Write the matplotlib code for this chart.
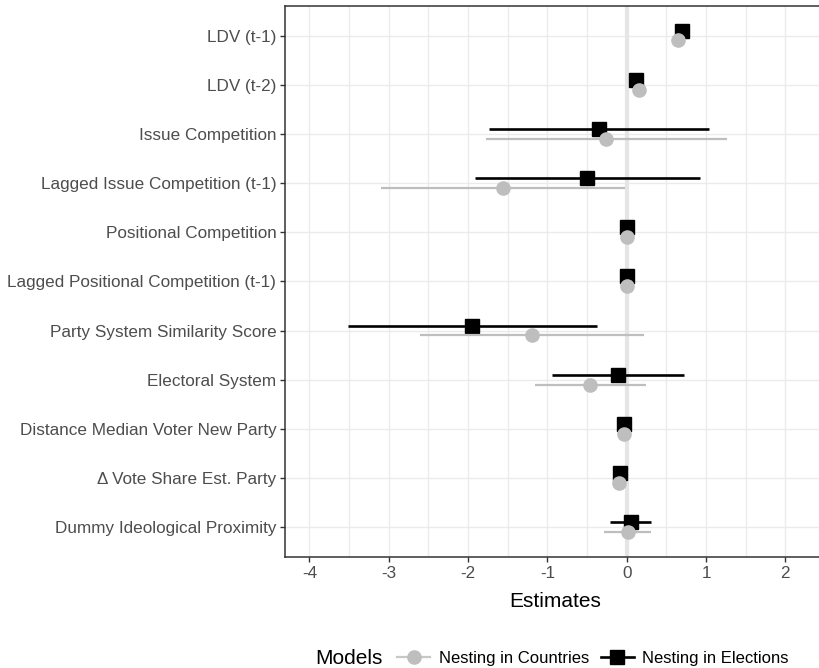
import matplotlib
matplotlib.use("Agg")
import matplotlib.pyplot as plt
from matplotlib.lines import Line2D
import numpy as np

plt.rcParams['font.family'] = ['Liberation Sans', 'DejaVu Sans']

categories = [
    "LDV (t-1)",
    "LDV (t-2)",
    "Issue Competition",
    "Lagged Issue Competition (t-1)",
    "Positional Competition",
    "Lagged Positional Competition (t-1)",
    "Party System Similarity Score",
    "Electoral System",
    "Distance Median Voter New Party",
    "\u0394 Vote Share Est. Party",
    "Dummy Ideological Proximity",
]

# Nesting in Elections (black squares)
est_elections = [0.70, 0.12, -0.35, -0.50, 0.00, 0.00, -1.95, -0.11, -0.03, -0.08, 0.06]
lo_elections  = [0.66, 0.08, -1.74, -1.91, -0.02, -0.02, -3.52, -0.94, -0.05, -0.10, -0.21]
hi_elections  = [0.74, 0.16, 1.04, 0.93, 0.02, 0.02, -0.37, 0.72, -0.01, -0.06, 0.31]

# Nesting in Countries (grey circles)
est_countries = [0.65, 0.16, -0.26, -1.56, 0.00, 0.00, -1.20, -0.46, -0.03, -0.10, 0.01]
lo_countries  = [0.61, 0.12, -1.78, -3.10, -0.02, -0.02, -2.61, -1.16, -0.05, -0.12, -0.29]
hi_countries  = [0.69, 0.20, 1.265, -0.02, 0.02, 0.02, 0.22, 0.24, -0.01, -0.08, 0.31]

xticks = [-4, -3, -2, -1, 0, 1, 2]

W, H = 820, 668
fig = plt.figure(figsize=(W / 100, H / 100), dpi=100)
ax = fig.add_axes([285.3 / W, (H - 556.7) / H, (825 - 285.3) / W, (556.7 - 6) / H])

n = len(categories)
ypos = np.arange(n, 0, -1)

grid_c = '#EBEBEB'
# grid
for xv in np.arange(-4.5, 2.51, 0.5):
    ax.axvline(xv, color=grid_c, lw=1.0, zorder=0)
for yv in ypos:
    ax.axhline(yv, color=grid_c, lw=1.0, zorder=0)
ax.axvline(0, color='#E5E5E5', lw=3.0, zorder=0.5)

black = '#000000'
grey = '#BEBEBE'
off = 0.1
for i in range(n):
    y = ypos[i] + off
    ax.plot([lo_elections[i], hi_elections[i]], [y, y], color=black, lw=1.9, zorder=2, solid_capstyle='butt')
    ax.plot([est_elections[i]], [y], marker='s', color=black, markersize=9.5, zorder=3, linestyle='none')
for i in range(n):
    y = ypos[i] - off
    ax.plot([lo_countries[i], hi_countries[i]], [y, y], color=grey, lw=1.6, zorder=4, solid_capstyle='butt')
    ax.plot([est_countries[i]], [y], marker='o', color=grey, markersize=9.5, zorder=5, linestyle='none')

ax.set_xlim(-4.305, 2.50)
ax.set_ylim(0.4, n + 0.6)
ax.set_yticks(ypos)
ax.set_yticklabels(categories)
ax.set_xticks(xticks)
ax.set_xticklabels([str(t) for t in xticks])
ax.tick_params(axis='both', colors='#333333', labelcolor='#4D4D4D', labelsize=12.3, length=3.5, width=1.0)
ax.tick_params(axis='y', pad=3)
ax.tick_params(axis='x', pad=3)
for s in ax.spines.values():
    s.set_color('#333333')
    s.set_linewidth(1.1)
ax.spines['right'].set_visible(False)
ax.set_xlabel('Estimates', fontsize=15, color='black', labelpad=8)

# legend
fig.text(315 / W, 1 - 658 / H, 'Models', fontsize=15, va='center', ha='left')
handles = [
    Line2D([], [], color='#C8C8C8', lw=1.6, marker='o', markersize=9.5, markerfacecolor=grey, markeredgecolor=grey),
    Line2D([], [], color=black, lw=1.9, marker='s', markersize=9.5),
]
fig.legend(handles, ['Nesting in Countries', 'Nesting in Elections'], loc='center left',
           bbox_to_anchor=(397 / W, 1 - 658 / H), ncol=2, frameon=False, fontsize=12,
           handlelength=2.0, handletextpad=0.5, columnspacing=0.7, borderpad=0, borderaxespad=0)

fig.savefig('out.png', dpi=100)
